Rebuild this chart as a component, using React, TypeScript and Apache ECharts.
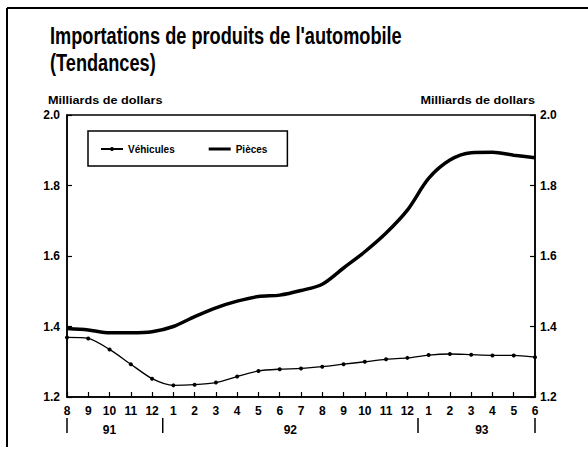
import React, { useEffect, useRef } from "react";
import * as echarts from "echarts";

const months = ["8", "9", "10", "11", "12", "1", "2", "3", "4", "5", "6", "7", "8", "9", "10", "11", "12", "1", "2", "3", "4", "5", "6"];
const vehicules = [1.369, 1.366, 1.335, 1.293, 1.252, 1.233, 1.235, 1.241, 1.258, 1.274, 1.279, 1.281, 1.286, 1.293, 1.3, 1.307, 1.311, 1.319, 1.322, 1.32, 1.318, 1.318, 1.313];
const pieces = [1.394, 1.39, 1.382, 1.382, 1.385, 1.4, 1.428, 1.453, 1.472, 1.485, 1.489, 1.502, 1.52, 1.566, 1.612, 1.665, 1.73, 1.82, 1.872, 1.893, 1.894, 1.886, 1.879];
const years = ["91", "92", "93"];
const yearCenters = [2, 10.5, 19.5];
const yearSeparators = [0, 4.5, 16.5, 22];

const W = 588, H = 449;
const GL = 67, GR = 53, GT = 115, GB = 52;
const FONT = "'Liberation Sans', Arial, Helvetica, sans-serif";

export default function App() {
  const ref = useRef<HTMLDivElement>(null);
  useEffect(() => {
    document.body.style.margin = "0";
    const chart = echarts.init(ref.current!, null, { renderer: "svg" });
    const plotW = W - GL - GR;
    const step = plotW / (months.length - 1);
    const xAt = (i: number) => GL + i * step;
    const graphics: any[] = [
      { type: "line", shape: { x1: 7, y1: 8, x2: 588, y2: 8 }, style: { stroke: "#000", lineWidth: 2 } },
      { type: "line", shape: { x1: 7, y1: 8, x2: 7, y2: 447 }, style: { stroke: "#000", lineWidth: 2 } },
      {
        type: "text", x: 50, y: 23, scaleY: 1.28, scaleX: 1.01,
        style: { text: "Importations de produits de l'automobile\n(Tendances)", font: `bold 18px ${FONT}`, lineHeight: 20.5, fill: "#000" },
      },
      {
        type: "text", x: 48, y: 95, scaleX: 1.15,
        style: { text: "Milliards de dollars", font: `bold 11px ${FONT}`, fill: "#000" },
      },
      {
        type: "text", x: 535, y: 95, scaleX: 1.15,
        style: { text: "Milliards de dollars", font: `bold 11px ${FONT}`, fill: "#000", align: "right" },
      },
    ];
    yearSeparators.forEach((i) => {
      graphics.push({ type: "line", shape: { x1: xAt(i), y1: 418, x2: xAt(i), y2: 433 }, style: { stroke: "#000", lineWidth: 1.5 } });
    });
    years.forEach((y, k) => {
      graphics.push({
        type: "text", x: xAt(yearCenters[k]), y: 424,
        style: { text: y, font: `bold 12px ${FONT}`, fill: "#000", align: "center" },
      });
    });
    const yAxisCommon = {
      type: "value",
      min: 1.2,
      max: 2.0,
      interval: 0.2,
      splitLine: { show: false },
      axisLine: { show: true, lineStyle: { color: "#000", width: 1.5 } },
      axisTick: { show: true, inside: true, length: 5, lineStyle: { color: "#000", width: 1.2 } },
      axisLabel: { color: "#000", fontSize: 12, fontWeight: "bold", fontFamily: FONT, formatter: (v: number) => v.toFixed(1) },
    };
    chart.setOption({
      animation: false,
      backgroundColor: "#fff",
      grid: { left: GL, right: GR, top: GT, bottom: GB, show: true, borderColor: "#000", borderWidth: 1.5 },
      legend: {
        left: 88, top: 131,
        padding: [13, 20, 12, 12],
        itemGap: 34,
        itemWidth: 22,
        itemHeight: 5,
        borderColor: "#000",
        borderWidth: 1.5,
        textStyle: { color: "#000", fontSize: 10, fontWeight: "bold", fontFamily: FONT },
        data: [
          { name: "Véhicules" },
          { name: "Pièces", icon: "path://M0,0L22,0L22,3L0,3Z" },
        ],
      },
      xAxis: {
        type: "category",
        data: months,
        boundaryGap: false,
        axisLine: { lineStyle: { color: "#000", width: 1.5 } },
        axisTick: { inside: true, length: 5, interval: 0, lineStyle: { color: "#000", width: 1.2 } },
        axisLabel: { interval: 0, color: "#000", fontSize: 12, fontWeight: "bold", fontFamily: FONT, margin: 8 },
      },
      yAxis: [
        { ...yAxisCommon, position: "left", axisLabel: { ...yAxisCommon.axisLabel, margin: 7 } },
        { ...yAxisCommon, position: "right", axisLabel: { ...yAxisCommon.axisLabel, margin: 5 } },
      ],
      series: [
        {
          name: "Véhicules", type: "line", data: vehicules, smooth: 0.25,
          symbol: "circle", symbolSize: 4,
          lineStyle: { color: "#000", width: 1.3 },
          itemStyle: { color: "#000" },
        },
        {
          name: "Pièces", type: "line", data: pieces, smooth: 0.3,
          symbol: "none",
          lineStyle: { color: "#000", width: 3.5 },
          itemStyle: { color: "#000" },
        },
      ],
      graphic: graphics,
    });
    return () => chart.dispose();
  }, []);
  return <div ref={ref} style={{ width: W, height: H }} />;
}
